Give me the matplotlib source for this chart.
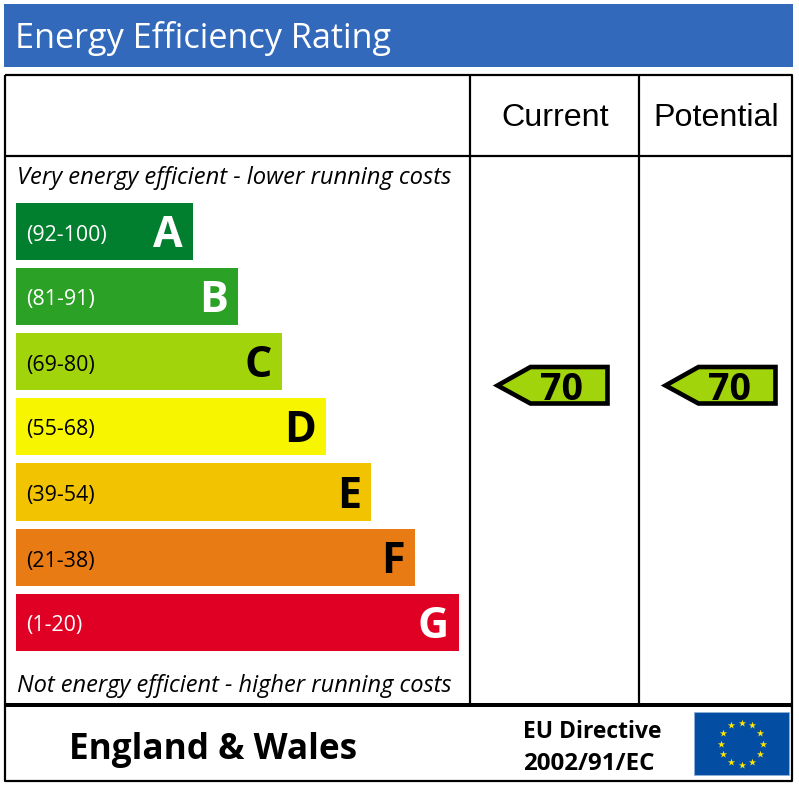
#!/usr/bin/env python3
# Energy efficiency rating chart, drawn in pixel coordinates of the image
import numpy as np
import matplotlib
matplotlib.use('Agg')
import matplotlib.pyplot as plt
from matplotlib.patches import Rectangle, Polygon

bands = ['A', 'B', 'C', 'D', 'E', 'F', 'G']
ranges = ['(92-100)', '(81-91)', '(69-80)', '(55-68)', '(39-54)', '(21-38)', '(1-20)']
bar_widths = [177, 222, 266, 310, 355, 399, 443]
bar_colors = ['#027E2F', '#2BA125', '#A2D40B', '#F7F500', '#F2C300', '#E87B14', '#E00024']
range_colors = ['white', 'white', 'black', 'black', 'black', 'black', 'white']
letter_colors = ['white', 'white', 'black', 'black', 'black', 'black', 'white']
columns = ['Current', 'Potential']
scores = [70, 70]
score_color = '#A2D40B'

BAR_X = 16
BAR_TOPS = [203, 268, 333, 398, 463, 529, 594]
BAR_HS = [57, 57, 57, 57, 58, 57, 57]
MAIN = 'Open Sans'

fig = plt.figure(figsize=(7.99, 7.86), dpi=100)
ax = fig.add_axes([0, 0, 1, 1])
ax.set_xlim(0, 799)
ax.set_ylim(786, 0)
ax.axis('off')

# title strip
ax.add_patch(Rectangle((4, 4), 789, 62.5, fc='#3269BB', ec='none'))
ax.text(15, 35, 'Energy Efficiency Rating', color='white', family=MAIN,
        fontsize=24.7, va='center_baseline', ha='left')

# frame and grid lines
def line(xs, ys, w=2.2):
    ax.plot(xs, ys, color='black', lw=w * 0.72, solid_capstyle='butt')

line([5, 792, 792, 5, 5], [74.5, 74.5, 781, 781, 74.5])
line([5, 792], [156, 156])
line([470, 470], [74.5, 705])
line([639, 639], [74.5, 705])
line([5, 793], [705, 705], 4)

# column headings
heads_x = [555, 716]
for name, x in zip(columns, heads_x):
    ax.text(x, 115, name, family='Liberation Sans', fontsize=23.2, ha='center',
            va='center_baseline', color='black')

ax.text(17, 175, 'Very energy efficient - lower running costs', family=MAIN,
        style='italic', fontsize=17.1, va='center_baseline')
ax.text(17, 683, 'Not energy efficient - higher running costs', family=MAIN,
        style='italic', fontsize=17, va='center_baseline')

# rating bars
for i, band in enumerate(bands):
    top = BAR_TOPS[i]
    mid = top + BAR_HS[i] / 2
    ax.barh(mid, bar_widths[i], height=BAR_HS[i], left=BAR_X,
            color=bar_colors[i], linewidth=0)
    ax.text(26, mid + 1, ranges[i], family=MAIN, fontsize=15.4,
            color=range_colors[i], va='center_baseline')
    ax.text(BAR_X + bar_widths[i] - 10, mid - 1, band, family=MAIN,
            weight='bold', fontsize=31, color=letter_colors[i], ha='right',
            va='center_baseline')

# score pointers
pointer_right = [607.5, 775.5]
for score, r in zip(scores, pointer_right):
    pts = [(r - 110, 385.5), (r - 77, 367), (r, 367), (r, 403.5), (r - 77, 403.5)]
    ax.add_patch(Polygon(pts, closed=True, fc=score_color, ec='black', lw=4.6 * 0.72,
                         joinstyle='miter'))
    ax.text(r - 46, 386, str(score), family=MAIN, weight='bold', fontsize=27,
            ha='center', va='center_baseline', color='black')

# footer
ax.text(69, 746, 'England & Wales', family=MAIN, weight='bold', fontsize=25.3,
        va='center_baseline', color='black')
ax.text(523, 729, 'EU Directive', family=MAIN, weight='bold', fontsize=16.5,
        va='center_baseline', color='black')
ax.text(523, 761, '2002/91/EC', family=MAIN, weight='bold', fontsize=17.4,
        va='center_baseline', color='black')

# EU flag
ax.add_patch(Rectangle((694, 712), 95, 63, fc='#034EA2', ec='#8FB0DA', lw=0.6))
ang = np.arange(12) * np.pi / 6
ax.scatter(741.5 + 21 * np.sin(ang), 743.5 - 21 * np.cos(ang), marker='*', s=30,
           color='#FFE500', linewidths=0, zorder=3)

fig.savefig('out.png', dpi=100, facecolor='white')
